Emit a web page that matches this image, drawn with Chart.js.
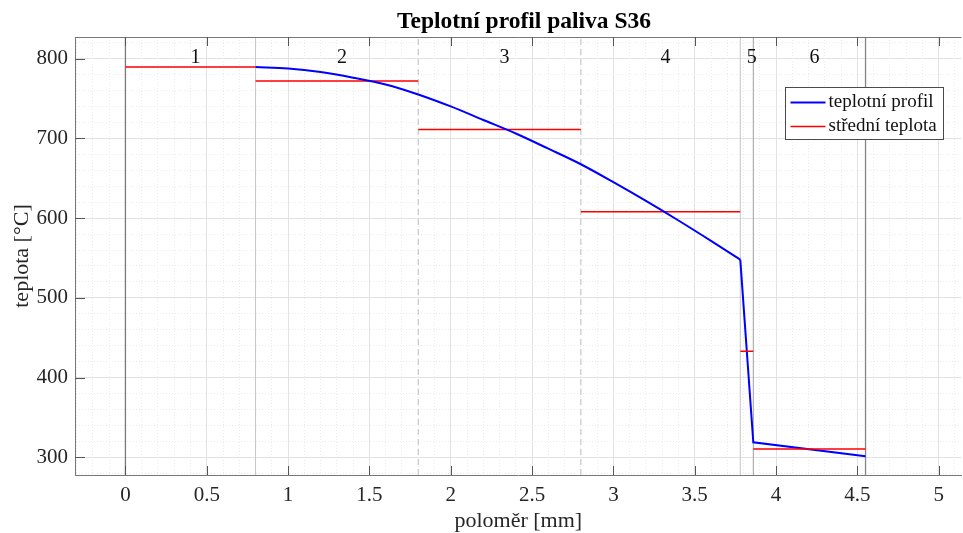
<!DOCTYPE html>
<html>
<head>
<meta charset="utf-8">
<script src="https://cdn.jsdelivr.net/npm/chart.js@4.4.1/dist/chart.umd.min.js"></script>
<style>
    html, body { margin: 0; padding: 0; background: #fff; }
    #wrap { width: 963px; height: 533px; }
</style>
</head>
<body>
<div id="wrap"><canvas id="chart" width="963" height="533"></canvas></div>
<script>
// temperature profile in the fuel (radius [mm] / temperature [°C])
const fuelR = [0.8, 1.0, 1.2, 1.4, 1.6, 1.8, 2.0, 2.2, 2.4, 2.6, 2.8, 3.0, 3.2, 3.4, 3.6, 3.78];
const fuelT = [789.5, 787.5, 783, 776, 767.5, 755, 740, 723, 706, 687, 667.5, 645, 621.5, 597, 571.5, 548];
// gap and cladding part of the profile
const outerR = [3.78, 3.86, 4.55];
const outerT = [548, 319, 301.5];

// zones: edges, names and mean temperature
const zoneEdges = [0, 0.8, 1.8, 2.8, 3.78, 3.86, 4.55];
const zoneNames = ['1', '2', '3', '4', '5', '6'];
const zoneMeanT = [789.5, 772, 711, 608, 433, 310.5];

// axis ticks and limits
const xTicks = [0, 0.5, 1, 1.5, 2, 2.5, 3, 3.5, 4, 4.5, 5];
const yTicks = [300, 400, 500, 600, 700, 800];
const xLimits = [-0.31, 5.14];
const yLimits = [278, 827];

const FONT = '"Liberation Serif", "Times New Roman", serif';
Chart.defaults.font.family = FONT;
Chart.defaults.color = '#262626';

const near = (v, list) => v !== undefined && list.some(t => Math.abs(t - v) < 1e-6);

// line styles for the zone boundaries (0, 0.8, 1.8, ...)
function edgeStyle(i) {
    const colors = ['#7a7a7a', '#c6c6c6', '#bdbdbd', '#bdbdbd', '#c6c6c6', '#9e9e9e', '#858585'];
    return {
        borderColor: colors[i],
        borderWidth: (i === 0 || i === 6) ? 1.3 : 1,
        borderDash: (i === 2 || i === 3) ? [6, 4] : []
    };
}

const datasets = [];

datasets.push({
    label: 'teplotní profil',
    data: fuelR.map((r, i) => ({ x: r, y: fuelT[i] })),
    borderColor: '#0000ff',
    borderWidth: 2,
    pointRadius: 0,
    cubicInterpolationMode: 'monotone'
});

const meanData = [];
zoneMeanT.forEach((t, i) => {
    meanData.push({ x: zoneEdges[i], y: t }, { x: zoneEdges[i + 1], y: t }, { x: zoneEdges[i + 1], y: null });
});
datasets.push({
    label: 'střední teplota',
    data: meanData,
    borderColor: '#ff0000',
    borderWidth: 1.5,
    pointRadius: 0,
    spanGaps: false
});

datasets.push({
    label: 'teplotní profil (gap)',
    data: outerR.map((r, i) => ({ x: r, y: outerT[i] })),
    borderColor: '#0000ff',
    borderWidth: 2,
    pointRadius: 0,
    tension: 0
});

zoneEdges.forEach((e, i) => {
    datasets.push(Object.assign({
        label: 'edge' + i,
        data: [{ x: e, y: yLimits[0] }, { x: e, y: yLimits[1] }],
        pointRadius: 0
    }, edgeStyle(i)));
});

// title, inward ticks, top border, zone numbers and the boxed legend
const decor = {
    id: 'decor',
    afterDatasetsDraw(chart) {
        const ctx = chart.ctx;
        const xs = chart.scales.x, ys = chart.scales.y;
        const a = chart.chartArea;
        ctx.save();

        // top border
        ctx.strokeStyle = '#777';
        ctx.lineWidth = 1;
        ctx.beginPath();
        ctx.moveTo(a.left, a.top + 0.5);
        ctx.lineTo(a.right, a.top + 0.5);
        ctx.stroke();

        // inward tick marks
        ctx.strokeStyle = '#555';
        ctx.beginPath();
        xTicks.forEach(v => {
            const px = Math.round(xs.getPixelForValue(v)) + 0.5;
            ctx.moveTo(px, a.bottom); ctx.lineTo(px, a.bottom - 9);
            ctx.moveTo(px, a.top); ctx.lineTo(px, a.top + 9);
        });
        yTicks.forEach(v => {
            const py = Math.round(ys.getPixelForValue(v)) + 0.5;
            ctx.moveTo(a.left, py); ctx.lineTo(a.left + 10, py);
        });
        ctx.stroke();

        // zone numbers
        ctx.fillStyle = '#111';
        ctx.font = '20px ' + FONT;
        ctx.textAlign = 'left';
        ctx.textBaseline = 'middle';
        zoneNames.forEach((n, i) => {
            const mid = (zoneEdges[i] + zoneEdges[i + 1]) / 2;
            ctx.fillText(n, xs.getPixelForValue(mid), ys.getPixelForValue(800) - 1);
        });

        // legend
        const lx = 785.5, ly = 87.5, lw = 158, lh = 52;
        ctx.fillStyle = '#fff';
        ctx.fillRect(lx, ly, lw, lh);
        ctx.strokeStyle = '#4a4a4a';
        ctx.strokeRect(lx, ly, lw, lh);
        [datasets[0], datasets[1]].forEach((ds, i) => {
            const yy = ly + 15 + i * 24;
            ctx.strokeStyle = ds.borderColor;
            ctx.lineWidth = ds.borderWidth;
            ctx.beginPath();
            ctx.moveTo(lx + 5, yy); ctx.lineTo(lx + 40, yy);
            ctx.stroke();
            ctx.fillStyle = '#111';
            ctx.font = '19px ' + FONT;
            ctx.fillText(ds.label, lx + 43, yy);
        });

        // title
        ctx.fillStyle = '#000';
        ctx.font = 'bold 23.5px ' + FONT;
        ctx.textAlign = 'center';
        ctx.fillText('Teplotní profil paliva S36', 524, 22);
        ctx.restore();
    }
};

new Chart(document.getElementById('chart'), {
    type: 'line',
    data: { datasets: datasets },
    options: {
        responsive: false,
        animation: false,
        devicePixelRatio: 1,
        layout: { padding: { top: 37, left: 0, right: 0, bottom: 0 } },
        plugins: {
            legend: { display: false },
            tooltip: { enabled: false },
            title: { display: false }
        },
        scales: {
            x: {
                type: 'linear',
                min: xLimits[0],
                max: xLimits[1],
                afterFit(scale) { scale.height = 58; },
                ticks: {
                    stepSize: 0.1,
                    autoSkip: false,
                    includeBounds: false,
                    maxRotation: 0,
                    padding: 8,
                    font: { size: 21 },
                    callback: v => near(v, xTicks) ? String(+v.toFixed(1)) : ''
                },
                grid: {
                    drawTicks: false,
                    color: c => near(c.tick && c.tick.value, xTicks) ? '#e2e2e2' : '#ebebeb'
                },
                border: {
                    color: '#777',
                    dash: c => (c.tick && !near(c.tick.value, xTicks)) ? [1, 2] : []
                },
                title: {
                    display: true,
                    text: 'poloměr [mm]',
                    font: { size: 22, lineHeight: 1.1 },
                    padding: { top: 0, bottom: 0 }
                }
            },
            y: {
                min: yLimits[0],
                max: yLimits[1],
                afterFit(scale) { scale.width = 75; },
                ticks: {
                    stepSize: 20,
                    autoSkip: false,
                    includeBounds: false,
                    padding: 7,
                    font: { size: 21 },
                    callback: v => near(v, yTicks) ? String(v) : ''
                },
                grid: {
                    drawTicks: false,
                    color: c => near(c.tick && c.tick.value, yTicks) ? '#e2e2e2' : '#ebebeb'
                },
                border: {
                    color: '#777',
                    dash: c => (c.tick && !near(c.tick.value, yTicks)) ? [1, 2] : []
                },
                title: {
                    display: true,
                    text: 'teplota [°C]',
                    font: { size: 22, lineHeight: 1.2 },
                    padding: { top: 9, bottom: 0 }
                }
            }
        }
    },
    plugins: [decor]
});
</script>
</body>
</html>
